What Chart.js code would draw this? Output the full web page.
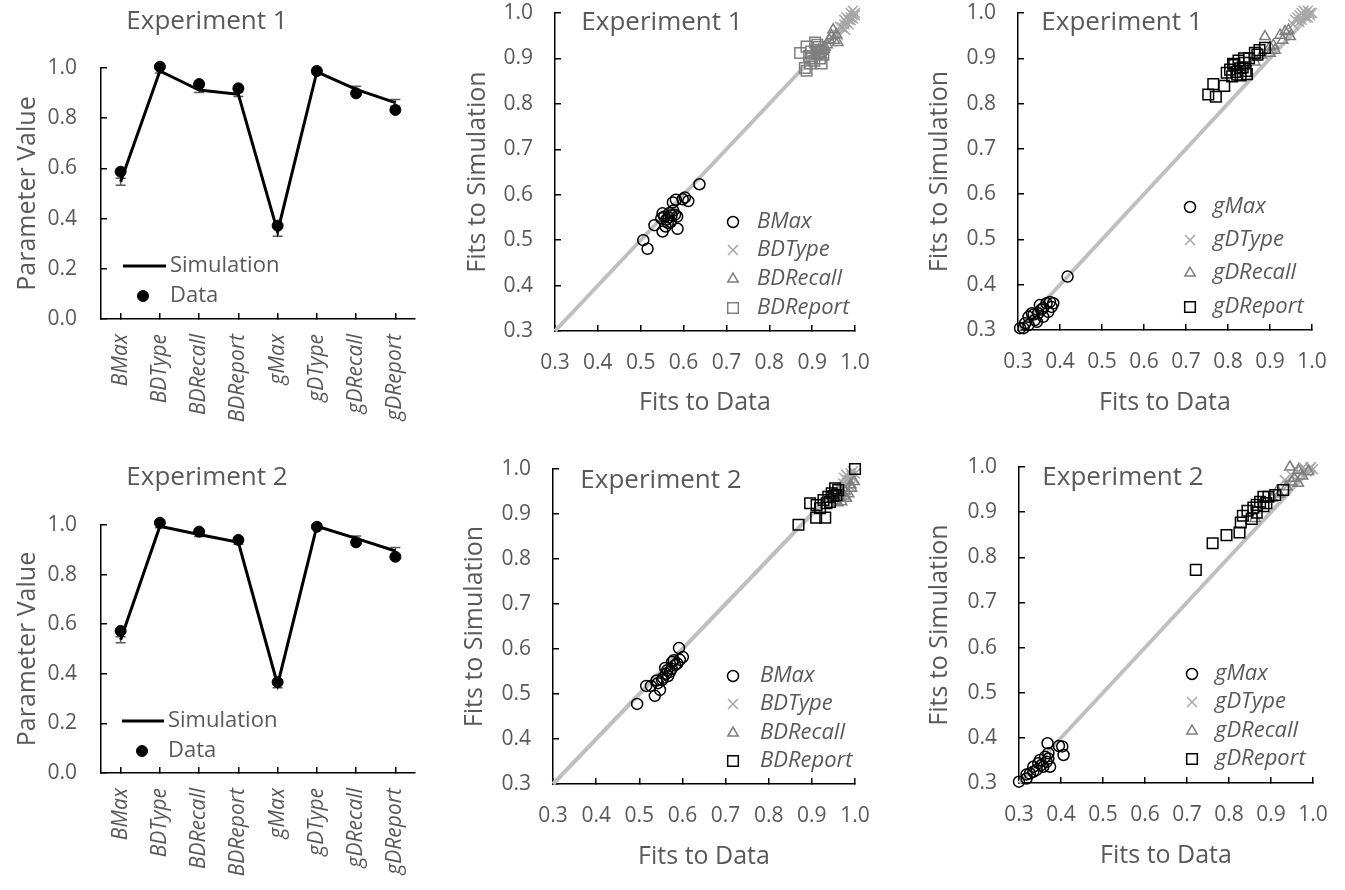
<!DOCTYPE html>
<html>
<head>
<meta charset="utf-8">
<script src="https://cdn.jsdelivr.net/npm/chart.js@4"></script>
<style>
  html, body { margin: 0; padding: 0; background: #fff; }
  #fig { position: relative; width: 1345px; height: 890px; overflow: hidden; }
</style>
</head>
<body>
<div id="fig"></div>
<script>
// ---- parameter means (left column) ----
const paramNames = ['BMax', 'BDType', 'BDRecall', 'BDReport', 'gMax', 'gDType', 'gDRecall', 'gDReport'];
const paramTicks = [0, 0.2, 0.4, 0.6, 0.8, 1.0];
const fitTicks = [0.3, 0.4, 0.5, 0.6, 0.7, 0.8, 0.9, 1.0];
const identityLine = [0.3, 1.0];

const exp1Simulation    = [0.547, 0.988, 0.912, 0.895, 0.348, 0.985, 0.915, 0.862];
const exp1SimulationErr = [0.014, 0.008, 0.010, 0.009, 0.018, 0.008, 0.012, 0.013];
const exp1Data          = [0.587, 1.005, 0.936, 0.919, 0.372, 0.988, 0.899, 0.833];

const exp2Simulation    = [0.537, 0.995, 0.962, 0.930, 0.356, 0.995, 0.946, 0.895];
const exp2SimulationErr = [0.012, 0.006, 0.008, 0.008, 0.012, 0.006, 0.010, 0.014];
const exp2Data          = [0.573, 1.009, 0.973, 0.940, 0.366, 0.993, 0.930, 0.872];

// ---- individual fits: [fit to data, fit to simulation] ----
const exp1BMaxFit = [[0.506,0.500],[0.516,0.481],[0.532,0.533],[0.551,0.559],[0.551,0.519],[0.586,0.525],[0.637,0.623],[0.611,0.586],[0.603,0.594],[0.582,0.589],[0.576,0.565],[0.560,0.545],[0.565,0.550],[0.570,0.540],[0.555,0.552],[0.572,0.555],[0.580,0.556],[0.563,0.538],[0.558,0.530],[0.548,0.548],[0.575,0.583],[0.598,0.590],[0.567,0.560],[0.585,0.552]];
const exp1BDTypeFit = [[0.977,0.963],[0.970,0.968],[0.975,0.975],[0.980,0.980],[0.985,0.985],[0.990,0.990],[0.995,0.995],[1.000,1.000],[0.990,1.000],[0.995,0.988],[0.980,0.990],[0.985,0.975],[0.960,0.952],[0.990,0.984],[1.000,0.995],[0.995,1.005],[0.975,0.985],[0.965,0.970]];
const exp1BDRecallFit = [[0.949,0.963],[0.957,0.952],[0.940,0.941],[0.960,0.935],[0.952,0.940],[0.930,0.925],[0.925,0.915],[0.935,0.930],[0.920,0.910],[0.945,0.950],[0.910,0.905],[0.928,0.920],[0.915,0.918]];
const exp1BDReportFit = [[0.872,0.912],[0.887,0.926],[0.907,0.935],[0.910,0.919],[0.883,0.879],[0.887,0.873],[0.895,0.889],[0.918,0.900],[0.926,0.908],[0.914,0.912],[0.900,0.900],[0.922,0.889],[0.905,0.895],[0.915,0.925],[0.893,0.905],[0.920,0.915],[0.898,0.915],[0.912,0.930]];

const exp1gMaxFit = [[0.305,0.304],[0.317,0.315],[0.325,0.329],[0.333,0.337],[0.340,0.322],[0.348,0.337],[0.352,0.355],[0.360,0.348],[0.368,0.359],[0.376,0.362],[0.380,0.351],[0.372,0.340],[0.360,0.329],[0.345,0.318],[0.313,0.304],[0.418,0.418],[0.384,0.359],[0.355,0.345],[0.337,0.334],[0.325,0.311]];
const exp1gDTypeFit = [[0.960,0.985],[0.965,0.990],[0.970,0.995],[0.975,1.000],[0.980,0.995],[0.985,1.000],[0.990,0.990],[0.995,1.000],[1.000,1.000],[0.975,0.985],[0.985,0.990],[0.990,1.005],[0.955,0.975],[0.970,0.980],[0.995,0.995],[0.980,1.005]];
const exp1gDRecallFit = [[0.888,0.948],[0.908,0.929],[0.924,0.951],[0.944,0.962],[0.948,0.948],[0.936,0.959],[0.912,0.918],[0.900,0.911],[0.880,0.907],[0.864,0.892],[0.900,0.925],[0.930,0.940]];
const exp1gDReportFit = [[0.753,0.820],[0.771,0.815],[0.765,0.843],[0.791,0.839],[0.797,0.868],[0.805,0.875],[0.810,0.860],[0.815,0.885],[0.820,0.870],[0.825,0.895],[0.830,0.862],[0.835,0.880],[0.840,0.890],[0.845,0.865],[0.812,0.888],[0.828,0.878],[0.838,0.900],[0.850,0.900],[0.864,0.912],[0.875,0.918],[0.888,0.923],[0.870,0.908],[0.822,0.864],[0.842,0.872]];

const exp2BMaxFit = [[0.495,0.478],[0.516,0.518],[0.527,0.518],[0.543,0.524],[0.555,0.536],[0.536,0.496],[0.548,0.509],[0.571,0.549],[0.583,0.564],[0.594,0.576],[0.592,0.602],[0.601,0.582],[0.560,0.558],[0.576,0.571],[0.567,0.540],[0.553,0.531],[0.562,0.545],[0.575,0.556],[0.580,0.575],[0.588,0.568],[0.565,0.553],[0.540,0.530]];
const exp2BDTypeFit = [[0.980,0.987],[0.996,0.979],[0.973,0.968],[0.990,0.990],[0.988,0.961],[0.965,0.958],[0.985,0.975],[0.995,0.995],[0.975,0.980],[1.000,0.990],[0.970,0.955],[0.992,0.985],[0.960,0.950]];
const exp2BDRecallFit = [[0.969,0.927],[0.980,0.935],[0.992,0.957],[0.998,0.972],[0.977,0.950],[0.965,0.938],[0.960,0.925],[0.985,0.945],[0.990,0.965],[0.975,0.940],[0.955,0.930],[0.970,0.948]];
const exp2BDReportFit = [[0.869,0.876],[0.896,0.924],[0.910,0.892],[0.931,0.892],[0.919,0.913],[0.927,0.931],[0.938,0.938],[0.946,0.946],[0.954,0.957],[0.961,0.953],[0.934,0.924],[1.000,1.000],[0.911,0.920],[0.942,0.927],[0.950,0.940],[0.957,0.942]];

const exp2gMaxFit = [[0.300,0.303],[0.318,0.310],[0.318,0.319],[0.334,0.325],[0.334,0.336],[0.342,0.329],[0.350,0.351],[0.354,0.340],[0.362,0.358],[0.366,0.347],[0.370,0.366],[0.374,0.336],[0.368,0.388],[0.403,0.381],[0.406,0.362],[0.395,0.382],[0.358,0.336],[0.346,0.344],[0.370,0.354],[0.326,0.321]];
const exp2gDTypeFit = [[0.977,1.000],[0.993,0.997],[0.960,0.995],[0.985,0.990],[0.970,0.985],[0.933,0.971],[0.940,0.960],[0.995,1.000],[0.980,0.993],[0.950,0.980],[0.965,0.990],[1.000,0.995]];
const exp2gDRecallFit = [[0.945,1.000],[0.965,0.993],[0.989,0.990],[0.949,0.967],[0.965,0.964],[0.937,0.956],[0.914,0.945],[0.902,0.931],[0.862,0.886],[0.920,0.940],[0.955,0.975],[0.975,0.980]];
const exp2gDReportFit = [[0.721,0.772],[0.761,0.831],[0.794,0.849],[0.825,0.855],[0.828,0.877],[0.833,0.892],[0.844,0.903],[0.854,0.885],[0.858,0.910],[0.866,0.916],[0.874,0.923],[0.882,0.934],[0.882,0.913],[0.894,0.934],[0.910,0.938],[0.929,0.949],[0.866,0.899],[0.889,0.920]];

// ---- styling ----
const FONT = "'Open Sans', 'Noto Sans', sans-serif";
const TEXT = '#595959';
const AXIS = '#000000';
const TITLE_PX = 26, AXIS_TITLE_PX = 25, TICK_PX = 21, LEGEND_PX = 22;

const markerStyles = {
  circle:    { pointStyle: 'circle',   pointRadius: 5.5, borderColor: '#000000' },
  cross:     { pointStyle: 'crossRot', pointRadius: 7,   borderColor: '#A6A6A6' },
  triangle:  { pointStyle: 'triangle', pointRadius: 6,   borderColor: '#7F7F7F' },
  square:    { pointStyle: 'rect',     pointRadius: 7.5, borderColor: '#000000' },
  greySquare:{ pointStyle: 'rect',     pointRadius: 7.5, borderColor: '#7F7F7F' }
};

const fig = document.getElementById('fig');

function drawMarker(ctx, style, radius, x, y) {
  if (Chart.helpers && Chart.helpers.drawPoint) {
    Chart.helpers.drawPoint(ctx, { pointStyle: style, radius: radius, rotation: 0, borderWidth: ctx.lineWidth }, x, y);
    return;
  }
  ctx.beginPath();
  ctx.arc(x, y, radius, 0, Math.PI * 2);
  ctx.fill(); ctx.stroke();
}

function fixedWidth(w) {
  return s => { s.width = w; s.paddingLeft = s.paddingRight = s.paddingTop = s.paddingBottom = 0; };
}
function fixedHeight(h) {
  return s => { s.height = h; s.paddingLeft = s.paddingRight = s.paddingTop = s.paddingBottom = 0; };
}
function fixedTicks(values) {
  return s => { s.ticks = values.map(v => ({ value: v })); };
}

function axisLook() {
  return {
    border: { display: true, color: AXIS, width: 1.5 },
    grid: { display: true, drawOnChartArea: false, drawTicks: true, tickLength: -6,
            color: AXIS, tickColor: AXIS, lineWidth: 1.5, tickWidth: 1.5 }
  };
}

// panel heading
function headingPlugin(text, x, y) {
  return {
    id: 'heading',
    afterDraw(chart) {
      const ctx = chart.ctx;
      ctx.save();
      ctx.font = `${TITLE_PX}px ${FONT}`;
      ctx.fillStyle = TEXT;
      ctx.textAlign = 'center';
      ctx.textBaseline = 'middle';
      ctx.fillText(text, x, y);
      ctx.restore();
    }
  };
}

// error bars on any dataset carrying an errorBars array
const errorBarPlugin = {
  id: 'errorBars',
  beforeDatasetsDraw(chart) {
    const ctx = chart.ctx;
    const xs = chart.scales.x, ys = chart.scales.y;
    chart.data.datasets.forEach(ds => {
      if (!ds.errorBars) return;
      ctx.save();
      ctx.strokeStyle = '#595959';
      ctx.lineWidth = 1.5;
      ds.data.forEach((v, i) => {
        const e = ds.errorBars[i];
        const px = xs.getPixelForValue(i);
        const yHi = ys.getPixelForValue(v + e);
        const yLo = ys.getPixelForValue(v - e);
        ctx.beginPath();
        ctx.moveTo(px, yHi); ctx.lineTo(px, yLo);
        ctx.moveTo(px - 5, yHi); ctx.lineTo(px + 5, yHi);
        ctx.moveTo(px - 5, yLo); ctx.lineTo(px + 5, yLo);
        ctx.stroke();
      });
      ctx.restore();
    });
  }
};

// legend for the parameter panels: line sample + filled dot
function paramLegendPlugin(lg) {
  return {
    id: 'paramLegend',
    afterDraw(chart) {
      const ctx = chart.ctx;
      const [sim, dat] = chart.data.datasets.slice().sort((a, b) => (a.showLine === false) - (b.showLine === false));
      ctx.save();
      ctx.font = `${LEGEND_PX}px ${FONT}`;
      ctx.fillStyle = TEXT;
      ctx.textAlign = 'left';
      ctx.textBaseline = 'middle';
      // Simulation
      ctx.strokeStyle = sim.borderColor;
      ctx.lineWidth = sim.borderWidth;
      ctx.beginPath();
      ctx.moveTo(lg.lineX[0], lg.rows[0]);
      ctx.lineTo(lg.lineX[1], lg.rows[0]);
      ctx.stroke();
      ctx.fillText(sim.label, lg.textX, lg.rows[0]);
      // Data
      ctx.fillText(dat.label, lg.textX, lg.rows[1]);
      ctx.fillStyle = dat.backgroundColor;
      ctx.strokeStyle = dat.borderColor;
      ctx.lineWidth = 1;
      drawMarker(ctx, dat.pointStyle, dat.pointRadius, lg.dotX, lg.rows[1]);
      ctx.restore();
    }
  };
}

// legend for the fit panels: hollow marker + italic parameter name
function fitLegendPlugin(lg) {
  return {
    id: 'fitLegend',
    afterDraw(chart) {
      const ctx = chart.ctx;
      const items = chart.data.datasets.filter(d => d.label);
      items.forEach((d, i) => {
        const y = lg.rows[i];
        ctx.save();
        ctx.strokeStyle = d.borderColor;
        ctx.lineWidth = d.borderWidth;
        ctx.fillStyle = 'rgba(0,0,0,0)';
        drawMarker(ctx, d.pointStyle, d.pointRadius, lg.markerX, y);
        ctx.font = `italic ${LEGEND_PX}px ${FONT}`;
        ctx.fillStyle = TEXT;
        ctx.textAlign = 'left';
        ctx.textBaseline = 'middle';
        ctx.fillText(d.label, lg.textX, y);
        ctx.restore();
      });
    }
  };
}

function makePanel(p) {
  const [cx, cy, cw, ch] = p.box;
  const [L, T, R, B] = p.area;
  const lh = AXIS_TITLE_PX * 1.2;
  const yAxisWidth = L - cx;
  const xAxisHeight = p.xTitleY ? (p.xTitleY - B + lh / 2) : (cy + ch - B);
  const layoutPadding = { left: 0, top: T - cy, right: cx + cw - R, bottom: cy + ch - B - xAxisHeight };
  const yTitlePad = p.yTitleX - cx - lh / 2;

  const canvas = document.createElement('canvas');
  canvas.width = cw; canvas.height = ch;
  canvas.style.cssText = `position:absolute;left:${cx}px;top:${cy}px;width:${cw}px;height:${ch}px;`;
  fig.appendChild(canvas);

  const local = (x, y) => [x - cx, y - cy];
  const [hx, hy] = local(p.headingAt[0], p.headingAt[1]);
  const plugins = [headingPlugin(p.heading, hx, hy)];
  let config;

  if (p.kind === 'param') {
    const lg = {
      lineX: p.legend.lineX.map(v => v - cx),
      textX: p.legend.textX - cx,
      dotX: p.legend.dotX - cx,
      rows: p.legend.rows.map(v => v - cy)
    };
    plugins.push(errorBarPlugin, paramLegendPlugin(lg));
    config = {
      type: 'line',
      data: {
        labels: paramNames,
        datasets: [
          { label: 'Data', data: p.data, showLine: false, pointStyle: 'circle', pointRadius: 5.5,
            backgroundColor: '#000000', borderColor: '#000000', borderWidth: 1, order: 1, clip: false },
          { label: 'Simulation', data: p.sim, errorBars: p.err, borderColor: '#000000', borderWidth: 3,
            pointRadius: 0, tension: 0, fill: false, order: 2, clip: false }
        ]
      },
      options: {
        responsive: false, animation: false, devicePixelRatio: 1,
        layout: { padding: layoutPadding },
        plugins: { legend: { display: false }, tooltip: { enabled: false } },
        scales: {
          x: Object.assign(axisLook(), {
            type: 'category', offset: true,
            afterFit: fixedHeight(xAxisHeight),
            ticks: { color: TEXT, font: { family: FONT, size: TICK_PX, style: 'italic' },
                     minRotation: 90, maxRotation: 90, autoSkip: false, padding: 21 }
          }),
          y: Object.assign(axisLook(), {
            min: 0, max: 1,
            afterBuildTicks: fixedTicks(paramTicks),
            afterFit: fixedWidth(yAxisWidth),
            ticks: { color: TEXT, font: { family: FONT, size: TICK_PX }, padding: 30,
                     callback: v => Number(v).toFixed(1) },
            title: { display: true, text: 'Parameter Value', color: TEXT,
                     font: { family: FONT, size: AXIS_TITLE_PX }, padding: { top: yTitlePad, bottom: 0 } }
          })
        }
      }
    };
    config.options.scales.x.grid.offset = false;
  } else {
    const lg = {
      markerX: p.legend.markerX - cx,
      textX: p.legend.textX - cx,
      rows: p.legend.rows.map(v => v - cy)
    };
    plugins.push(fitLegendPlugin(lg));
    const datasets = p.series.map((s, i) => Object.assign({
      label: s.label,
      data: s.points.map(([x, y]) => ({ x, y })),
      backgroundColor: 'rgba(0,0,0,0)',
      borderWidth: 1.5,
      order: p.series.length - i,
      clip: false
    }, markerStyles[s.marker]));
    datasets.push({
      label: '',
      data: [{ x: identityLine[0], y: identityLine[0] }, { x: identityLine[1], y: identityLine[1] }],
      showLine: true, borderColor: '#BFBFBF', borderWidth: 4, pointRadius: 0, order: 10, clip: false
    });
    config = {
      type: 'scatter',
      data: { datasets },
      options: {
        responsive: false, animation: false, devicePixelRatio: 1,
        layout: { padding: layoutPadding },
        plugins: { legend: { display: false }, tooltip: { enabled: false } },
        scales: {
          x: Object.assign(axisLook(), {
            type: 'linear', min: 0.3, max: 1.0,
            afterBuildTicks: fixedTicks(fitTicks),
            afterFit: fixedHeight(xAxisHeight),
            ticks: { color: TEXT, font: { family: FONT, size: TICK_PX }, padding: 25,
                     autoSkip: false, maxRotation: 0, callback: v => Number(v).toFixed(1) },
            title: { display: true, text: 'Fits to Data', color: TEXT,
                     font: { family: FONT, size: AXIS_TITLE_PX }, padding: { top: 0, bottom: 0 } }
          }),
          y: Object.assign(axisLook(), {
            type: 'linear', min: 0.3, max: 1.0,
            afterBuildTicks: fixedTicks(fitTicks),
            afterFit: fixedWidth(yAxisWidth),
            ticks: { color: TEXT, font: { family: FONT, size: TICK_PX }, padding: 28,
                     autoSkip: false, callback: v => Number(v).toFixed(1) },
            title: { display: true, text: 'Fits to Simulation', color: TEXT,
                     font: { family: FONT, size: AXIS_TITLE_PX }, padding: { top: yTitlePad, bottom: 0 } }
          })
        }
      }
    };
  }
  config.plugins = plugins;
  new Chart(canvas.getContext('2d'), config);
}

const panels = [
  { kind: 'param', box: [0, 0, 440, 445], area: [101, 68, 415, 319],
    heading: 'Experiment 1', headingAt: [207, 22], yTitleX: 28,
    sim: exp1Simulation, err: exp1SimulationErr, data: exp1Data,
    legend: { lineX: [123, 166], textX: 170, dotX: 143, rows: [266, 296] } },
  { kind: 'param', box: [0, 445, 440, 445], area: [101, 525, 415, 773],
    heading: 'Experiment 2', headingAt: [207, 478], yTitleX: 28,
    sim: exp2Simulation, err: exp2SimulationErr, data: exp2Data,
    legend: { lineX: [122, 164], textX: 168, dotX: 142, rows: [721, 751] } },
  { kind: 'fit', box: [440, 0, 450, 445], area: [555, 13, 855, 331],
    heading: 'Experiment 1', headingAt: [662, 23], yTitleX: 478, xTitleY: 403,
    legend: { markerX: 733, textX: 757, rows: [222, 250, 279, 308] },
    series: [
      { label: 'BMax', points: exp1BMaxFit, marker: 'circle' },
      { label: 'BDType', points: exp1BDTypeFit, marker: 'cross' },
      { label: 'BDRecall', points: exp1BDRecallFit, marker: 'triangle' },
      { label: 'BDReport', points: exp1BDReportFit, marker: 'greySquare' }
    ] },
  { kind: 'fit', box: [890, 0, 455, 445], area: [1018, 13, 1312, 330],
    heading: 'Experiment 1', headingAt: [1122, 23], yTitleX: 940, xTitleY: 403,
    legend: { markerX: 1190, textX: 1213, rows: [207, 240, 273, 307] },
    series: [
      { label: 'gMax', points: exp1gMaxFit, marker: 'circle' },
      { label: 'gDType', points: exp1gDTypeFit, marker: 'cross' },
      { label: 'gDRecall', points: exp1gDRecallFit, marker: 'triangle' },
      { label: 'gDReport', points: exp1gDReportFit, marker: 'square' }
    ] },
  { kind: 'fit', box: [440, 445, 450, 445], area: [553, 469, 855, 784],
    heading: 'Experiment 2', headingAt: [661, 481], yTitleX: 475, xTitleY: 857,
    legend: { markerX: 733, textX: 760, rows: [676, 704, 733, 761] },
    series: [
      { label: 'BMax', points: exp2BMaxFit, marker: 'circle' },
      { label: 'BDType', points: exp2BDTypeFit, marker: 'cross' },
      { label: 'BDRecall', points: exp2BDRecallFit, marker: 'triangle' },
      { label: 'BDReport', points: exp2BDReportFit, marker: 'square' }
    ] },
  { kind: 'fit', box: [890, 445, 455, 445], area: [1019, 467, 1313, 783],
    heading: 'Experiment 2', headingAt: [1123, 478], yTitleX: 940, xTitleY: 856,
    legend: { markerX: 1192, textX: 1215, rows: [674, 702, 731, 759] },
    series: [
      { label: 'gMax', points: exp2gMaxFit, marker: 'circle' },
      { label: 'gDType', points: exp2gDTypeFit, marker: 'cross' },
      { label: 'gDRecall', points: exp2gDRecallFit, marker: 'triangle' },
      { label: 'gDReport', points: exp2gDReportFit, marker: 'square' }
    ] }
];

panels.forEach(makePanel);
</script>
</body>
</html>
